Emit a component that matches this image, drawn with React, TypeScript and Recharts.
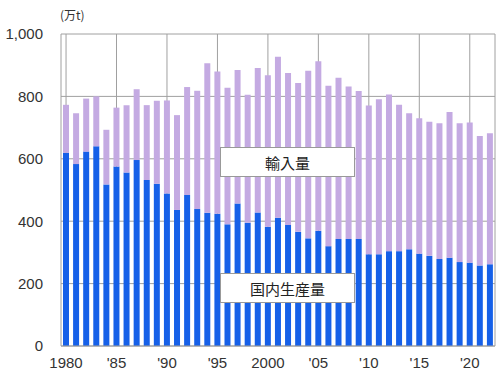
import { BarChart, Bar, XAxis, YAxis, CartesianGrid } from 'recharts';

const years = [
  1980, 1981, 1982, 1983, 1984, 1985, 1986, 1987, 1988, 1989,
  1990, 1991, 1992, 1993, 1994, 1995, 1996, 1997, 1998, 1999,
  2000, 2001, 2002, 2003, 2004, 2005, 2006, 2007, 2008, 2009,
  2010, 2011, 2012, 2013, 2014, 2015, 2016, 2017, 2018, 2019,
  2020, 2021, 2022,
];

// 国内生産量 (万t)
const domestic = [
  619, 583, 623, 640, 518, 575, 556, 596, 532, 520,
  489, 436, 484, 439, 427, 424, 390, 457, 395, 428,
  382, 411, 388, 366, 345, 369, 320, 343, 343, 343,
  294, 294, 304, 304, 310, 296, 289, 279, 283, 269,
  267, 258, 262,
];

// 総量 (国内生産量 + 輸入量)
const totals = [
  773, 746, 793, 800, 693, 764, 772, 823, 772, 786,
  787, 740, 830, 818, 906, 880, 828, 885, 805, 891,
  868, 927, 875, 843, 882, 913, 834, 860, 832, 817,
  771, 791, 806, 773, 746, 730, 719, 714, 750, 714,
  716, 673, 682,
];

const yTicks = [0, 200, 400, 600, 800, 1000];

const data = years.map((year, i) => ({
  year,
  domestic: domestic[i],
  imports: totals[i] - domestic[i],
}));

const yearLabel = (y: number) =>
  y === 1980 || y === 2000 ? String(y) : `'${String(y).slice(2)}`;

const gridColor = '#a0a0a0';
const textColor = '#333';
const numFont = '"Liberation Sans", Arial, sans-serif';
const jpFont = '"Noto Sans CJK JP", sans-serif';

const boxStyle: React.CSSProperties = {
  position: 'absolute',
  left: 220,
  width: 135,
  height: 30,
  background: '#fff',
  border: '1px solid #999',
  boxSizing: 'border-box',
  display: 'flex',
  alignItems: 'center',
  justifyContent: 'center',
  fontFamily: jpFont,
  fontSize: 15,
  color: '#222',
};

export default function App() {
  return (
    <div style={{ position: 'absolute', left: 0, top: 0, width: 500, height: 373, background: '#fff' }}>
      <BarChart
        width={500}
        height={373}
        data={data}
        barCategoryGap={0}
        margin={{ top: 34, right: 5, left: 0, bottom: 0 }}
      >
        <CartesianGrid
          stroke={gridColor}
          horizontal
          verticalCoordinatesGenerator={({ offset }: any) => {
            const band = offset.width / years.length;
            const xs: number[] = [];
            years.forEach((y, i) => {
              if ((y - 1980) % 5 === 0) xs.push(offset.left + (i + 0.5) * band);
            });
            xs.push(offset.left + offset.width);
            return xs;
          }}
        />
        <XAxis
          dataKey="year"
          interval={4}
          tickFormatter={yearLabel}
          tickLine={false}
          tickSize={0}
          tickMargin={11}
          height={27}
          axisLine={{ stroke: gridColor }}
          tick={{ fill: textColor, fontSize: 15, fontFamily: numFont }}
        />
        <YAxis
          domain={[0, 1000]}
          ticks={yTicks}
          width={61}
          tickLine={false}
          tickSize={0}
          tickMargin={18}
          axisLine={{ stroke: gridColor }}
          tickFormatter={(v: number) => v.toLocaleString('en-US')}
          tick={{ fill: textColor, fontSize: 15, fontFamily: numFont }}
        />
        <Bar dataKey="domestic" stackId="a" fill="#1660e8" barSize={6} isAnimationActive={false} />
        <Bar dataKey="imports" stackId="a" fill="#c4aae2" barSize={6} isAnimationActive={false} />
      </BarChart>
      <div style={{ position: 'absolute', left: 60, top: 6, fontFamily: jpFont, fontSize: 12, color: textColor }}>
        (万t)
      </div>
      <div style={{ ...boxStyle, top: 147 }}>輸入量</div>
      <div style={{ ...boxStyle, top: 273 }}>国内生産量</div>
    </div>
  );
}
